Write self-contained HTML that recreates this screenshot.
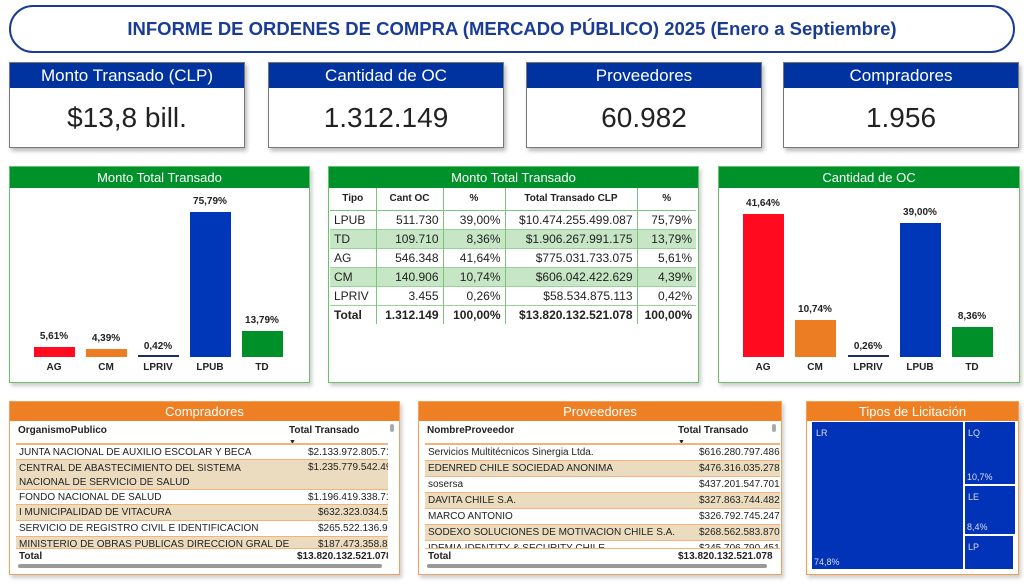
<!DOCTYPE html>
<html><head><meta charset="utf-8"><style>
*{box-sizing:border-box;margin:0;padding:0}
body{width:1024px;height:587px;background:#fff;font-family:"Liberation Sans",sans-serif;position:relative;overflow:hidden}
.a{position:absolute}
.title{left:9px;top:5px;width:1006px;height:48px;border:2px solid #1b3c96;border-radius:24px;color:#1b3c96;font-weight:bold;font-size:18.5px;text-align:center;line-height:44px}
.kpi{top:62px;width:236px;height:86px;border:1px solid #777;box-shadow:2px 3px 4px #bbb;background:#fff}
.kpi .h{height:25px;background:#0033a0;color:#fff;font-size:17px;text-align:center;line-height:25px}
.kpi .v{font-size:28px;color:#222;text-align:center;line-height:60px}
.gp{top:166px;height:217px;border:1.5px solid #6cbf6c;background:#fff;box-shadow:2px 3px 4px #ccc}
.gh{height:21px;background:#00922a;color:#fff;font-size:13px;text-align:center;line-height:21px}
.bar{position:absolute;width:41px}
.bl{position:absolute;width:60px;text-align:center;font-size:10px;font-weight:bold;color:#222}
table{border-collapse:collapse;font-size:12px;color:#222}
.t td{height:19px;padding:0 4px;border-right:1.5px solid #7cc47c;text-align:right}
.t td:first-child{text-align:left}
.t td:last-child{border-right:none}
.t tr.g td{background:#c6e6c6}
.t tr{border-bottom:1px solid #9bd19b}
.op{top:401px;height:174px;border:1.5px solid #f0a060;background:#fff;box-shadow:2px 3px 4px #ccc;overflow:hidden}
.oh{height:19px;background:#ee7f22;color:#fff;font-size:13px;text-align:center;line-height:19px}
.row{position:absolute;left:6px;font-size:10px;color:#222;border-bottom:1.5px solid #f5b27a;overflow:hidden;white-space:nowrap}
.row.tan{background:#ecdcbf}
.row span{position:absolute;top:2px}
.tm{position:absolute;background:#0033b8;color:#dde;font-size:9px}
</style></head><body>
<div class="a title">INFORME DE ORDENES DE COMPRA (MERCADO PÚBLICO) 2025 (Enero a Septiembre)</div>

<div class="a kpi" style="left:9px"><div class="h">Monto Transado (CLP)</div><div class="v">$13,8 bill.</div></div>
<div class="a kpi" style="left:268px"><div class="h">Cantidad de OC</div><div class="v">1.312.149</div></div>
<div class="a kpi" style="left:526px"><div class="h">Proveedores</div><div class="v">60.982</div></div>
<div class="a kpi" style="left:783px"><div class="h">Compradores</div><div class="v">1.956</div></div>

<div class="a gp" style="left:9px;width:301px"><div class="gh">Monto Total Transado</div></div>
<div class="bar" style="left:34px;top:347px;height:10px;background:#ff0a1f"></div>
<div class="bar" style="left:86px;top:349px;height:8px;background:#ec7d22"></div>
<div class="bar" style="left:138px;top:355px;height:2px;background:#1c2f5e"></div>
<div class="bar" style="left:190px;top:212px;height:145px;background:#0036b8"></div>
<div class="bar" style="left:242px;top:331px;height:26px;background:#00902a"></div>
<div class="bl" style="left:24px;top:331px">5,61%</div>
<div class="bl" style="left:76px;top:333px">4,39%</div>
<div class="bl" style="left:128px;top:341px">0,42%</div>
<div class="bl" style="left:180px;top:196px">75,79%</div>
<div class="bl" style="left:232px;top:315px">13,79%</div>
<div class="bl" style="left:24px;top:362px">AG</div>
<div class="bl" style="left:76px;top:362px">CM</div>
<div class="bl" style="left:128px;top:362px">LPRIV</div>
<div class="bl" style="left:180px;top:362px">LPUB</div>
<div class="bl" style="left:232px;top:362px">TD</div>

<div class="a gp" style="left:328px;width:371px"><div class="gh">Monto Total Transado</div>
<table class="t" style="width:366px;margin-left:1px">
<tr style="border-bottom:1.5px solid #7cc47c"><td style="height:22px;font-weight:bold;font-size:10px;text-align:center;width:46px">Tipo</td><td style="font-weight:bold;font-size:10px;text-align:center;width:67px">Cant OC</td><td style="font-weight:bold;font-size:10px;text-align:center;width:62px">%</td><td style="font-weight:bold;font-size:10px;text-align:center;width:132px">Total Transado CLP</td><td style="font-weight:bold;font-size:10px;text-align:center">%</td></tr>
<tr><td>LPUB</td><td>511.730</td><td>39,00%</td><td>$10.474.255.499.087</td><td>75,79%</td></tr>
<tr class="g"><td>TD</td><td>109.710</td><td>8,36%</td><td>$1.906.267.991.175</td><td>13,79%</td></tr>
<tr><td>AG</td><td>546.348</td><td>41,64%</td><td>$775.031.733.075</td><td>5,61%</td></tr>
<tr class="g"><td>CM</td><td>140.906</td><td>10,74%</td><td>$606.042.422.629</td><td>4,39%</td></tr>
<tr><td>LPRIV</td><td>3.455</td><td>0,26%</td><td>$58.534.875.113</td><td>0,42%</td></tr>
<tr style="border-bottom:none;font-weight:bold"><td>Total</td><td>1.312.149</td><td>100,00%</td><td>$13.820.132.521.078</td><td>100,00%</td></tr>
</table></div>

<div class="a gp" style="left:718px;width:302px"><div class="gh">Cantidad de OC</div></div>
<div class="bar" style="left:743px;top:214px;height:143px;background:#ff0a1f"></div>
<div class="bar" style="left:795px;top:320px;height:37px;background:#ec7d22"></div>
<div class="bar" style="left:848px;top:355px;height:2px;background:#1c2f5e"></div>
<div class="bar" style="left:900px;top:223px;height:134px;background:#0036b8"></div>
<div class="bar" style="left:952px;top:327px;height:30px;background:#00902a"></div>
<div class="bl" style="left:733px;top:198px">41,64%</div>
<div class="bl" style="left:785px;top:304px">10,74%</div>
<div class="bl" style="left:838px;top:341px">0,26%</div>
<div class="bl" style="left:890px;top:207px">39,00%</div>
<div class="bl" style="left:942px;top:311px">8,36%</div>
<div class="bl" style="left:733px;top:362px">AG</div>
<div class="bl" style="left:785px;top:362px">CM</div>
<div class="bl" style="left:838px;top:362px">LPRIV</div>
<div class="bl" style="left:890px;top:362px">LPUB</div>
<div class="bl" style="left:942px;top:362px">TD</div>

<div class="a op" style="left:9px;width:391px"><div class="oh">Compradores</div>
<div class="a" style="left:8px;top:23px;font-size:10px;font-weight:bold;color:#222">OrganismoPublico</div>
<div class="a" style="left:279px;top:23px;font-size:10px;font-weight:bold;color:#222">Total Transado<br><span style="font-size:7px">▼</span></div>
<div class="a" style="left:380px;top:22px;width:4px;height:8px;background:#aaa;border-radius:2px"></div>
<div class="row" style="top:41px;width:372px;height:1.5px;border:none;background:#f5b27a"></div>
<div class="row" style="top:43px;width:372px;height:15px"><span style="left:3px">JUNTA NACIONAL DE AUXILIO ESCOLAR Y BECA</span><span style="left:292px">$2.133.972.805.712</span></div>
<div class="row tan" style="top:58px;width:372px;height:30px"><span style="left:3px;line-height:14px">CENTRAL DE ABASTECIMIENTO DEL SISTEMA<br>NACIONAL DE SERVICIO DE SALUD</span><span style="left:292px">$1.235.779.542.490</span></div>
<div class="row" style="top:88px;width:372px;height:15px"><span style="left:3px">FONDO NACIONAL DE SALUD</span><span style="left:292px">$1.196.419.338.716</span></div>
<div class="row tan" style="top:103px;width:372px;height:16px"><span style="left:3px">I MUNICIPALIDAD DE VITACURA</span><span style="left:302px">$632.323.034.554</span></div>
<div class="row" style="top:119px;width:372px;height:16px"><span style="left:3px">SERVICIO DE REGISTRO CIVIL E IDENTIFICACION</span><span style="left:302px">$265.522.136.998</span></div>
<div class="row tan" style="top:135px;width:372px;height:11px;border:none"><span style="left:3px">MINISTERIO DE OBRAS PUBLICAS DIRECCION GRAL DE</span><span style="left:302px">$187.473.358.836</span></div>
<div class="row" style="top:146px;width:372px;height:16px;border:none;border-top:1.5px solid #f5b27a;font-weight:bold"><span style="left:3px">Total</span><span style="left:281px">$13.820.132.521.078</span></div>
<div class="a" style="left:8px;top:162px;width:364px;height:4px;background:#999;border-radius:2px"></div>
</div>

<div class="a op" style="left:418px;width:364px"><div class="oh">Proveedores</div>
<div class="a" style="left:8px;top:23px;font-size:10px;font-weight:bold;color:#222">NombreProveedor</div>
<div class="a" style="left:259px;top:23px;font-size:10px;font-weight:bold;color:#222">Total Transado<br><span style="font-size:7px">▼</span></div>
<div class="a" style="left:353px;top:22px;width:4px;height:8px;background:#aaa;border-radius:2px"></div>
<div class="row" style="top:41px;width:355px;height:1.5px;border:none;background:#f5b27a"></div>
<div class="row" style="top:43px;width:355px;height:16px"><span style="left:3px">Servicios Multitécnicos Sinergia Ltda.</span><span style="left:274px">$616.280.797.486</span></div>
<div class="row tan" style="top:59px;width:355px;height:16px"><span style="left:3px">EDENRED CHILE SOCIEDAD ANONIMA</span><span style="left:274px">$476.316.035.278</span></div>
<div class="row" style="top:75px;width:355px;height:16px"><span style="left:3px">sosersa</span><span style="left:274px">$437.201.547.701</span></div>
<div class="row tan" style="top:91px;width:355px;height:16px"><span style="left:3px">DAVITA CHILE S.A.</span><span style="left:274px">$327.863.744.482</span></div>
<div class="row" style="top:107px;width:355px;height:16px"><span style="left:3px">MARCO ANTONIO</span><span style="left:274px">$326.792.745.247</span></div>
<div class="row tan" style="top:123px;width:355px;height:16px"><span style="left:3px">SODEXO SOLUCIONES DE MOTIVACION CHILE S.A.</span><span style="left:274px">$268.562.583.870</span></div>
<div class="row" style="top:139px;width:355px;height:7px;border:none"><span style="left:3px">IDEMIA IDENTITY &amp; SECURITY CHILE</span><span style="left:274px">$245.706.790.451</span></div>
<div class="row" style="top:146px;width:355px;height:16px;border:none;border-top:1.5px solid #f5b27a;font-weight:bold"><span style="left:3px">Total</span><span style="left:253px">$13.820.132.521.078</span></div>
<div class="a" style="left:8px;top:162px;width:340px;height:4px;background:#999;border-radius:2px"></div>
</div>

<div class="a op" style="left:806px;width:213px;border-color:#f5a050"><div class="oh">Tipos de Licitación</div></div>
<div class="tm" style="left:812px;top:422px;width:151px;height:147px"><span class="a" style="left:4px;top:6px">LR</span><span class="a" style="left:2px;bottom:2px">74,8%</span></div>
<div class="tm" style="left:965px;top:422px;width:50px;height:62px"><span class="a" style="left:3px;top:6px">LQ</span><span class="a" style="left:2px;bottom:2px">10,7%</span></div>
<div class="tm" style="left:965px;top:486px;width:50px;height:48px"><span class="a" style="left:3px;top:6px">LE</span><span class="a" style="left:2px;bottom:2px">8,4%</span></div>
<div class="tm" style="left:965px;top:536px;width:48px;height:33px"><span class="a" style="left:3px;top:6px">LP</span></div>
</body></html>
